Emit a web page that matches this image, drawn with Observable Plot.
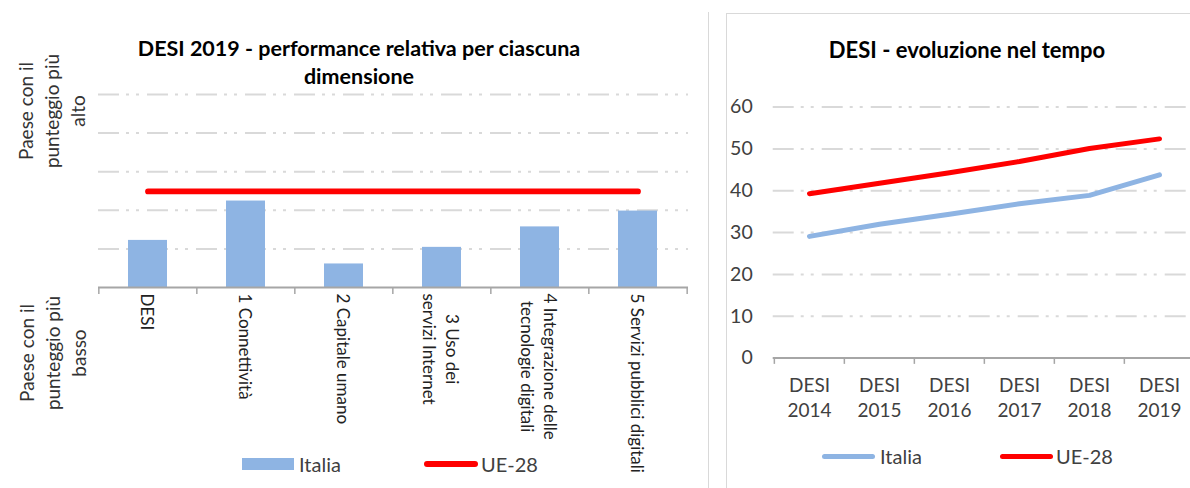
<!DOCTYPE html>
<html>
<head>
<meta charset="utf-8">
<script src="https://cdn.jsdelivr.net/npm/d3@7"></script>
<script src="https://cdn.jsdelivr.net/npm/@observablehq/plot@0.6"></script>
<style>
  html, body { margin: 0; padding: 0; background: #fff; }
  #wrap { position: relative; width: 1190px; height: 488px; overflow: hidden; background: #fff; font-family: Lato, "Open Sans", sans-serif; color: #404040; }
  .abs { position: absolute; white-space: nowrap; }
  .title { font-weight: bold; color: #000; font-size: 21.5px; line-height: 28px; text-align: center; }
  .ylab { font-size: 19px; line-height: 26px; text-align: center; color: #333; }
  .leg { font-size: 20px; line-height: 24px; color: #404040; }
  svg { position: absolute; top: 0; }
</style>
</head>
<body>
<div id="wrap">
  <div class="abs" style="left:708px;top:12px;width:1px;height:476px;background:#d9d9d9"></div>
  <div class="abs" style="left:726px;top:13px;width:520px;height:520px;border:1px solid #d9d9d9;box-sizing:border-box"></div>
</div>
<script>
// ---------- data ----------
const dimensions = ["DESI", "1 Connettività", "2 Capitale umano", "3 Uso dei\nservizi Internet", "4 Integrazione delle\ntecnologie digitali", "5 Servizi pubblici digitali"];
const italiaRel = [1.22, 2.24, 0.61, 1.04, 1.57, 1.98];
const ueRel = [2.49, 2.49, 2.49, 2.49, 2.49, 2.49];
const relGrid = [1, 2, 3, 4, 5];

const editions = ["DESI\n2014", "DESI\n2015", "DESI\n2016", "DESI\n2017", "DESI\n2018", "DESI\n2019"];
const italiaScore = [29.1, 32.0, 34.4, 36.9, 38.9, 43.8];
const ueScore = [39.3, 41.8, 44.3, 47.0, 50.1, 52.4];
const scoreTicks = [0, 10, 20, 30, 40, 50, 60];

const leftTitle = "DESI 2019 - performance relativa per ciascuna\ndimensione";
const rightTitle = "DESI - evoluzione nel tempo";
const topLabel = "Paese con il\npunteggio più\nalto";
const bottomLabel = "Paese con il\npunteggio più\nbasso";
const seriesNames = ["Italia", "UE-28"];

const BLUE = "#8eb4e3", RED = "#ff0000", GRID = "#d9d9d9", AXIS = "#a6a6a6";
const dash = "21,7,3,7,3,8";
const wrap = document.getElementById("wrap");

// ---------- left chart ----------
const relTable = dimensions.map((d, i) => ({dim: d, it: italiaRel[i], ue: ueRel[i]}));
const L = {width: 700, height: 488, ml: 98, mr: 12, mt: 94, mb: 201};
const stepL = (L.width - L.ml - L.mr) / dimensions.length;
const left = Plot.plot({
  width: L.width, height: L.height,
  marginLeft: L.ml, marginRight: L.mr, marginTop: L.mt, marginBottom: L.mb,
  style: {fontFamily: "Lato, 'Open Sans', sans-serif", fontSize: "17px", color: "#333", background: "transparent", overflow: "visible"},
  x: {type: "band", domain: dimensions, paddingInner: 0.6, paddingOuter: 0.3, label: null},
  y: {domain: [0, 5], axis: null},
  marks: [
    Plot.ruleY(relGrid, {stroke: GRID, strokeWidth: 2, strokeDasharray: dash}),
    Plot.barY(relTable, {x: "dim", y: "it", fill: BLUE}),
    Plot.line(relTable, {x: "dim", y: "ue", stroke: RED, strokeWidth: 5.7, strokeLinecap: "round"}),
    Plot.ruleY([0], {stroke: AXIS, strokeWidth: 2}),
    Plot.ruleX(dimensions, {x: d => d, y1: 0, y2: -0.18, dx: -stepL / 2, stroke: AXIS, strokeWidth: 1.5}),
    Plot.ruleX(dimensions.slice(-1), {x: d => d, y1: 0, y2: -0.18, dx: stepL / 2, stroke: AXIS, strokeWidth: 1.5}),
    Plot.axisX({tickRotate: 90, tickSize: 0, tickPadding: 6, fontSize: 17, lineHeight: 1.35, label: null, fill: "#222"})
  ]
});
left.style.left = "0px";
wrap.appendChild(left);

// center-align the lines of multi-line rotated tick labels (as in the original)
left.querySelectorAll("text").forEach(t => {
  const spans = t.querySelectorAll("tspan");
  if (spans.length < 2) return;
  const lens = Array.from(spans, s => s.getComputedTextLength());
  const maxLen = Math.max(...lens);
  spans.forEach((s, i) => s.setAttribute("x", (maxLen - lens[i]) / 2));
});

// ---------- right chart ----------
const scoreTable = editions.map((e, i) => ({ed: e, it: italiaScore[i], ue: ueScore[i]}));
const R = {width: 500, height: 488, ml: 72.7, mr: 5.5, mt: 106.6, mb: 130.4};
const stepR = (R.width - R.ml - R.mr) / editions.length;
const right = Plot.plot({
  width: R.width, height: R.height,
  marginLeft: R.ml, marginRight: R.mr, marginTop: R.mt, marginBottom: R.mb,
  style: {fontFamily: "Lato, 'Open Sans', sans-serif", fontSize: "19px", color: "#404040", background: "transparent", overflow: "visible"},
  x: {type: "band", domain: editions, padding: 0, label: null},
  y: {domain: [0, 60], label: null},
  marks: [
    Plot.ruleY(scoreTicks.filter(t => t > 0), {stroke: GRID, strokeWidth: 2, strokeDasharray: dash}),
    Plot.ruleY([0], {stroke: AXIS, strokeWidth: 2}),
    Plot.ruleX(editions, {x: d => d, y1: 0, y2: -1.5, dx: -stepR / 2, stroke: AXIS, strokeWidth: 1.5}),
    Plot.ruleX(editions.slice(-1), {x: d => d, y1: 0, y2: -1.5, dx: stepR / 2, stroke: AXIS, strokeWidth: 1.5}),
    Plot.line(scoreTable, {x: "ed", y: "it", stroke: BLUE, strokeWidth: 5, strokeLinecap: "round", strokeLinejoin: "round"}),
    Plot.line(scoreTable, {x: "ed", y: "ue", stroke: RED, strokeWidth: 5, strokeLinecap: "round", strokeLinejoin: "round"}),
    Plot.axisY({ticks: scoreTicks, tickSize: 0, tickPadding: 20.5, fontSize: 19.5, label: null}),
    Plot.axisX({tickSize: 0, tickPadding: 16, fontSize: 19, lineHeight: 1.32, label: null})
  ]
});
right.style.left = "700px";
wrap.appendChild(right);

// ---------- html texts ----------
function addDiv(cls, text, css) {
  const d = document.createElement("div");
  d.className = "abs " + cls;
  d.innerHTML = text.split("\n").join("<br>");
  Object.assign(d.style, css);
  wrap.appendChild(d);
  return d;
}
addDiv("title", leftTitle, {left: "59px", top: "34px", width: "600px"});
addDiv("title", rightTitle, {left: "767px", top: "36px", width: "400px", fontSize: "22px"});

function rotLabel(text, cx, cy) {
  const d = addDiv("ylab", text, {left: "0px", top: "0px"});
  const w = d.offsetWidth, h = d.offsetHeight;
  d.style.left = (cx - w / 2) + "px";
  d.style.top = (cy - h / 2) + "px";
  d.style.transform = "rotate(-90deg)";
  d.style.transformOrigin = "50% 50%";
}
rotLabel(topLabel, 52, 111);
rotLabel(bottomLabel, 53, 353);

// legends
function swatchRect(x, y, w, h, color, radius) {
  const d = document.createElement("div");
  d.className = "abs";
  Object.assign(d.style, {left: x + "px", top: y + "px", width: w + "px", height: h + "px", background: color, borderRadius: radius + "px"});
  wrap.appendChild(d);
}
swatchRect(242, 458, 52, 12, BLUE, 0);
addDiv("leg", seriesNames[0], {left: "299px", top: "452px"});
swatchRect(424, 461, 54, 5.5, RED, 3);
addDiv("leg", seriesNames[1], {left: "481px", top: "452px"});

swatchRect(822, 453.5, 53, 5, BLUE, 2.5);
addDiv("leg", seriesNames[0], {left: "880px", top: "444px"});
swatchRect(1000, 453.5, 53, 5, RED, 2.5);
addDiv("leg", seriesNames[1], {left: "1056px", top: "444px"});
</script>
</body>
</html>
